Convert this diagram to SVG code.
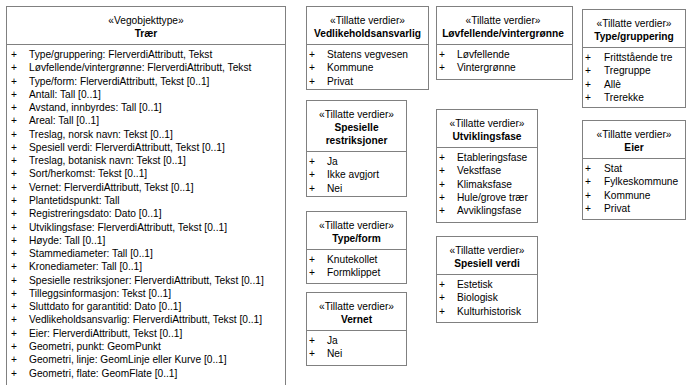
<svg xmlns="http://www.w3.org/2000/svg" width="687" height="385" viewBox="0 0 687 385">
<style>
.box{fill:#ffffff;stroke:#808080;stroke-width:1}
.ln{stroke:#808080;stroke-width:1}
text{font-family:"Liberation Sans",Arial,sans-serif;font-size:10.2px;fill:#000000}
.c{text-anchor:middle}
.b{font-weight:bold}
</style>
<rect width="687" height="385" fill="#ffffff"/>
<g id="traer">
<rect class="box" x="6.5" y="6.5" width="279" height="385"/>
<line class="ln" x1="6.5" y1="44.5" x2="285.5" y2="44.5"/>
<text class="c" x="146" y="23.5">«Vegobjekttype»</text>
<text class="c b" x="146" y="37">Trær</text>
<g>
<text x="11" y="58">+</text><text x="29" y="58">Type/gruppering: FlerverdiAttributt, Tekst</text>
<text x="11" y="71.3">+</text><text x="29" y="71.3">Løvfellende/vintergrønne: FlerverdiAttributt, Tekst</text>
<text x="11" y="84.5">+</text><text x="29" y="84.5">Type/form: FlerverdiAttributt, Tekst [0..1]</text>
<text x="11" y="97.8">+</text><text x="29" y="97.8">Antall: Tall [0..1]</text>
<text x="11" y="111.1">+</text><text x="29" y="111.1">Avstand, innbyrdes: Tall [0..1]</text>
<text x="11" y="124.4">+</text><text x="29" y="124.4">Areal: Tall [0..1]</text>
<text x="11" y="137.6">+</text><text x="29" y="137.6">Treslag, norsk navn: Tekst [0..1]</text>
<text x="11" y="150.9">+</text><text x="29" y="150.9">Spesiell verdi: FlerverdiAttributt, Tekst [0..1]</text>
<text x="11" y="164.2">+</text><text x="29" y="164.2">Treslag, botanisk navn: Tekst [0..1]</text>
<text x="11" y="177.4">+</text><text x="29" y="177.4">Sort/herkomst: Tekst [0..1]</text>
<text x="11" y="190.7">+</text><text x="29" y="190.7">Vernet: FlerverdiAttributt, Tekst [0..1]</text>
<text x="11" y="204">+</text><text x="29" y="204">Plantetidspunkt: Tall</text>
<text x="11" y="217.2">+</text><text x="29" y="217.2">Registreringsdato: Dato [0..1]</text>
<text x="11" y="230.5">+</text><text x="29" y="230.5">Utviklingsfase: FlerverdiAttributt, Tekst [0..1]</text>
<text x="11" y="243.8">+</text><text x="29" y="243.8">Høyde: Tall [0..1]</text>
<text x="11" y="257">+</text><text x="29" y="257">Stammediameter: Tall [0..1]</text>
<text x="11" y="270.3">+</text><text x="29" y="270.3">Kronediameter: Tall [0..1]</text>
<text x="11" y="283.6">+</text><text x="29" y="283.6">Spesielle restriksjoner: FlerverdiAttributt, Tekst [0..1]</text>
<text x="11" y="296.9">+</text><text x="29" y="296.9">Tilleggsinformasjon: Tekst [0..1]</text>
<text x="11" y="310.1">+</text><text x="29" y="310.1">Sluttdato for garantitid: Dato [0..1]</text>
<text x="11" y="323.4">+</text><text x="29" y="323.4">Vedlikeholdsansvarlig: FlerverdiAttributt, Tekst [0..1]</text>
<text x="11" y="336.7">+</text><text x="29" y="336.7">Eier: FlerverdiAttributt, Tekst [0..1]</text>
<text x="11" y="349.9">+</text><text x="29" y="349.9">Geometri, punkt: GeomPunkt</text>
<text x="11" y="363.2">+</text><text x="29" y="363.2">Geometri, linje: GeomLinje eller Kurve [0..1]</text>
<text x="11" y="376.5">+</text><text x="29" y="376.5">Geometri, flate: GeomFlate [0..1]</text>
</g>
</g>

<g id="vedlikeholdsansvarlig">
<rect class="box" x="306.5" y="6.5" width="122" height="83"/>
<line class="ln" x1="306.5" y1="44.5" x2="428.5" y2="44.5"/>
<text class="c" x="367.5" y="23.5">«Tillatte verdier»</text>
<text class="c b" x="367.5" y="37">Vedlikeholdsansvarlig</text>
<text x="309" y="58">+</text><text x="327" y="58">Statens vegvesen</text>
<text x="309" y="71.3">+</text><text x="327" y="71.3">Kommune</text>
<text x="309" y="84.6">+</text><text x="327" y="84.6">Privat</text>
</g>

<g id="spesielle-restriksjoner">
<rect class="box" x="306.5" y="100.5" width="100" height="96"/>
<line class="ln" x1="306.5" y1="151.5" x2="406.5" y2="151.5"/>
<text class="c" x="356.5" y="117.5">«Tillatte verdier»</text>
<text class="c b" x="356.5" y="130.5">Spesielle</text>
<text class="c b" x="356.5" y="143.5">restriksjoner</text>
<text x="309" y="165">+</text><text x="327" y="165">Ja</text>
<text x="309" y="178.3">+</text><text x="327" y="178.3">Ikke avgjort</text>
<text x="309" y="191.6">+</text><text x="327" y="191.6">Nei</text>
</g>

<g id="type-form">
<rect class="box" x="306.5" y="211.5" width="100" height="72"/>
<line class="ln" x1="306.5" y1="249.5" x2="406.5" y2="249.5"/>
<text class="c" x="356.5" y="228.5">«Tillatte verdier»</text>
<text class="c b" x="356.5" y="242">Type/form</text>
<text x="309" y="263">+</text><text x="327" y="263">Knutekollet</text>
<text x="309" y="276.3">+</text><text x="327" y="276.3">Formklippet</text>
</g>

<g id="vernet">
<rect class="box" x="306.5" y="292.5" width="100" height="73"/>
<line class="ln" x1="306.5" y1="330.5" x2="406.5" y2="330.5"/>
<text class="c" x="356.5" y="309.5">«Tillatte verdier»</text>
<text class="c b" x="356.5" y="323">Vernet</text>
<text x="309" y="344">+</text><text x="327" y="344">Ja</text>
<text x="309" y="357.3">+</text><text x="327" y="357.3">Nei</text>
</g>

<g id="lovfellende-vintergronne">
<rect class="box" x="436.5" y="6.5" width="136" height="73"/>
<line class="ln" x1="436.5" y1="44.5" x2="572.5" y2="44.5"/>
<text class="c" x="503" y="23.5">«Tillatte verdier»</text>
<text class="c b" x="503" y="37">Løvfellende/vintergrønne</text>
<text x="439" y="58">+</text><text x="457" y="58">Løvfellende</text>
<text x="439" y="71.3">+</text><text x="457" y="71.3">Vintergrønne</text>
</g>

<g id="utviklingsfase">
<rect class="box" x="436.5" y="109.5" width="101" height="113"/>
<line class="ln" x1="436.5" y1="147.5" x2="537.5" y2="147.5"/>
<text class="c" x="487" y="126.5">«Tillatte verdier»</text>
<text class="c b" x="487" y="140">Utviklingsfase</text>
<text x="439" y="161">+</text><text x="457" y="161">Etableringsfase</text>
<text x="439" y="174.3">+</text><text x="457" y="174.3">Vekstfase</text>
<text x="439" y="187.6">+</text><text x="457" y="187.6">Klimaksfase</text>
<text x="439" y="200.9">+</text><text x="457" y="200.9">Hule/grove trær</text>
<text x="439" y="214.2">+</text><text x="457" y="214.2">Avviklingsfase</text>
</g>

<g id="spesiell-verdi">
<rect class="box" x="436.5" y="236.5" width="101" height="86"/>
<line class="ln" x1="436.5" y1="274.5" x2="537.5" y2="274.5"/>
<text class="c" x="487" y="253.5">«Tillatte verdier»</text>
<text class="c b" x="487" y="267">Spesiell verdi</text>
<text x="439" y="288">+</text><text x="457" y="288">Estetisk</text>
<text x="439" y="301.3">+</text><text x="457" y="301.3">Biologisk</text>
<text x="439" y="314.6">+</text><text x="457" y="314.6">Kulturhistorisk</text>
</g>

<g id="type-gruppering">
<rect class="box" x="582.5" y="9.5" width="103" height="98"/>
<line class="ln" x1="582.5" y1="47.5" x2="685.5" y2="47.5"/>
<text class="c" x="634" y="26.5">«Tillatte verdier»</text>
<text class="c b" x="634" y="40">Type/gruppering</text>
<text x="585" y="61">+</text><text x="604" y="61">Frittstående tre</text>
<text x="585" y="74.3">+</text><text x="604" y="74.3">Tregruppe</text>
<text x="585" y="87.6">+</text><text x="604" y="87.6">Allè</text>
<text x="585" y="100.9">+</text><text x="604" y="100.9">Trerekke</text>
</g>

<g id="eier">
<rect class="box" x="582.5" y="120.5" width="103" height="99"/>
<line class="ln" x1="582.5" y1="158.5" x2="685.5" y2="158.5"/>
<text class="c" x="634" y="137.5">«Tillatte verdier»</text>
<text class="c b" x="634" y="151">Eier</text>
<text x="585" y="172">+</text><text x="604" y="172">Stat</text>
<text x="585" y="185.3">+</text><text x="604" y="185.3">Fylkeskommune</text>
<text x="585" y="198.6">+</text><text x="604" y="198.6">Kommune</text>
<text x="585" y="211.9">+</text><text x="604" y="211.9">Privat</text>
</g>
</svg>
